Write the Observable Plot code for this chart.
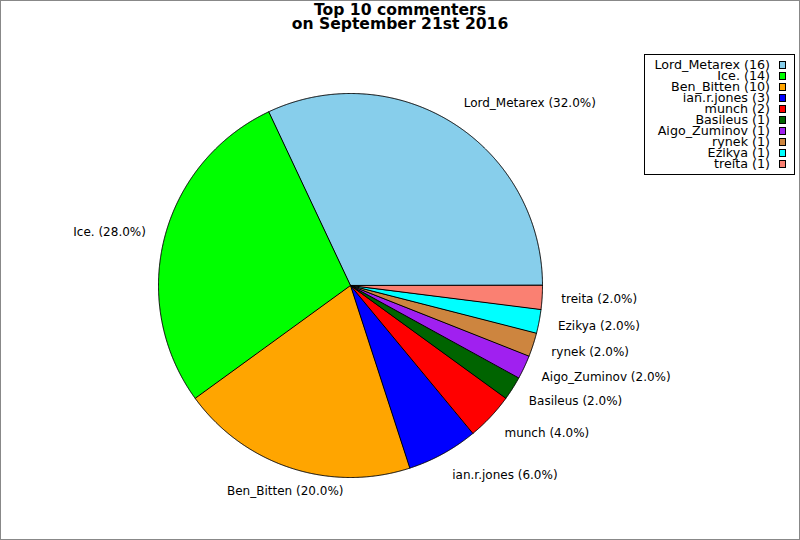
<!DOCTYPE html>
<html><head><meta charset="utf-8">
<script src="https://cdn.jsdelivr.net/npm/d3@7"></script>
<script src="https://cdn.jsdelivr.net/npm/@observablehq/plot@0.6"></script>
<style>
html,body{margin:0;padding:0;background:#fff;}
#frame{position:relative;width:800px;height:540px;box-sizing:border-box;border:1px solid #888;overflow:hidden;font-family:"DejaVu Sans",sans-serif;background:#fff;}
#title{height:34px;box-sizing:border-box;padding-top:3px;text-align:center;font-weight:bold;font-size:15.6px;color:#000;}
#title .tl{display:block;height:13.5px;line-height:13.5px;overflow:visible;}
#title .tl span{display:inline-block;height:13.5px;line-height:13.5px;vertical-align:top;}
#legend{position:absolute;left:643px;top:53px;width:151px;height:121px;box-sizing:border-box;border:1px solid #000;padding-top:4px;padding-right:8px;background:#fff;}
.row{height:11px;line-height:11px;display:flex;justify-content:flex-end;align-items:center;font-size:12.7px;white-space:nowrap;color:#000;}
.row .lt{display:inline-block;height:11px;line-height:11px;}
.sw{width:7px;height:8px;box-sizing:border-box;border:1px solid #000;margin-left:9px;flex:none;}
#chart svg{display:block;}
</style></head>
<body>
<div id="frame">
  <div id="title"><div class="tl"><span>Top 10 commenters</span></div><div class="tl"><span>on September 21st 2016</span></div></div>
  <div id="chart"></div>
  <div id="legend"></div>
</div>
<script>
const names = ["Lord_Metarex","Ice.","Ben_Bitten","ian.r.jones","munch","Basileus","Aigo_Zuminov","rynek","Ezikya","treita"];
const counts = [16,14,10,3,2,1,1,1,1,1];
const colors = ["#87ceeb","#00ff00","#ffa500","#0000ff","#ff0000","#006400","#a020f0","#cd853f","#00ffff","#fa8072"];

const total = d3.sum(counts);
const W = 798, H = 504, cx = 349, cy = 250, R = 192;

let cum = 0;
const slices = names.map((name, i) => {
  const a0 = cum / total * 2 * Math.PI; cum += counts[i];
  const a1 = cum / total * 2 * Math.PI;
  return {name, count: counts[i], pct: counts[i] / total * 100, a0, a1, mid: (a0 + a1) / 2};
});

const pts = [];
for (const s of slices) {
  pts.push({name: s.name, x: 0, y: 0});
  const n = Math.max(2, Math.ceil((s.a1 - s.a0) / (Math.PI / 720)));
  for (let k = 0; k <= n; k++) {
    const a = s.a0 + (s.a1 - s.a0) * k / n;
    pts.push({name: s.name, x: R * Math.cos(a), y: R * Math.sin(a)});
  }
}

const labels = slices.map(s => {
  const c = Math.cos(s.mid), sn = Math.sin(s.mid);
  return {
    text: `${s.name} (${s.pct.toFixed(1)}%)`,
    x: 1.1 * R * c,
    y: (1.1 * R + 5) * sn,
    anchor: Math.abs(c) < 0.4 ? "middle" : (c > 0 ? "start" : "end")
  };
});

const chart = Plot.plot({
  width: W, height: H,
  marginTop: 0, marginRight: 0, marginBottom: 0, marginLeft: 0,
  x: {domain: [-cx, W - cx], axis: null},
  y: {domain: [-(H - cy), cy], axis: null},
  color: {domain: names, range: colors},
  style: {fontFamily: "'DejaVu Sans', sans-serif", background: "transparent", overflow: "visible"},
  marks: [
    Plot.line(pts, {x: "x", y: "y", z: "name", fill: "name", stroke: "black", strokeWidth: 1, curve: "linear-closed"}),
    ...["start", "middle", "end"].map(a =>
      Plot.text(labels.filter(d => d.anchor === a), {x: "x", y: "y", text: "text", textAnchor: a, fontSize: 12, fill: "black"}))
  ]
});
document.getElementById("chart").appendChild(chart);

const legend = document.getElementById("legend");
names.forEach((n, i) => {
  const row = document.createElement("div");
  row.className = "row";
  const t = document.createElement("span");
  t.className = "lt";
  t.textContent = `${n} (${counts[i]})`;
  const sw = document.createElement("span");
  sw.className = "sw";
  sw.style.background = colors[i];
  row.appendChild(t); row.appendChild(sw);
  legend.appendChild(row);
});
</script>
</body></html>
